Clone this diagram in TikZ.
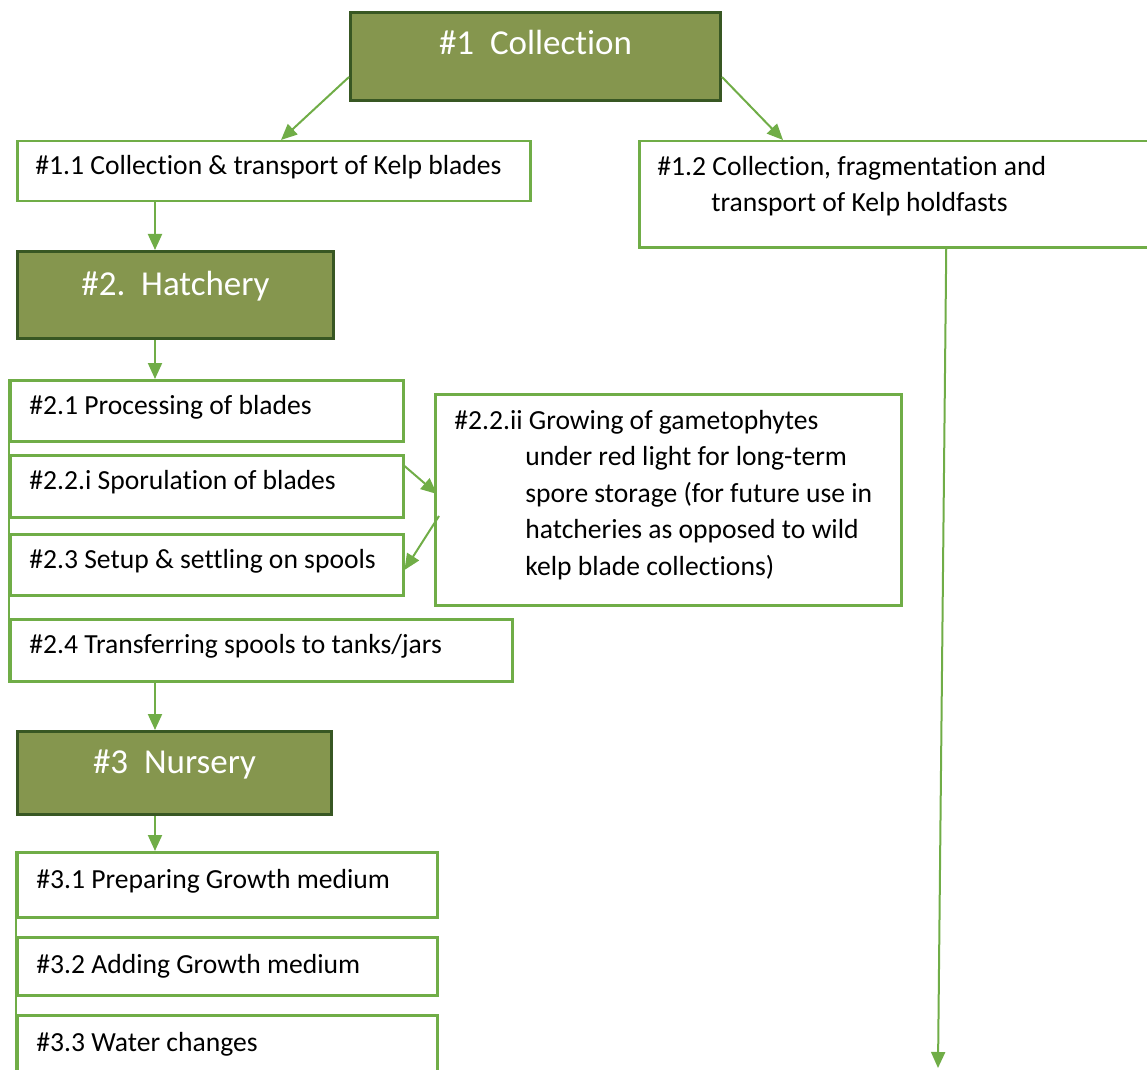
\documentclass[tikz,border=0pt]{standalone}
\usepackage{fontspec}
\setmainfont{Carlito}[Ligatures={NoCommon}]
\usetikzlibrary{calc,arrows.meta}
\definecolor{lgreen}{HTML}{70AD47}
\definecolor{olive}{RGB}{133,150,78}
\definecolor{dgreen}{HTML}{385723}
\begin{document}
\begin{tikzpicture}[x=0.5pt,y=-0.5pt,
  hdr/.style={draw=dgreen,line width=1.5pt,fill=olive,anchor=north west,inner sep=0pt},
  box/.style={draw=lgreen,line width=1.25pt,fill=white,anchor=north west,inner sep=0pt},
  htxt/.style={text=white,inner sep=0pt,anchor=base,font=\fontsize{17.5pt}{21pt}\selectfont},
  btxt/.style={inner sep=0pt,anchor=base west,align=left,font=\fontsize{13.8pt}{18.2pt}\selectfont},
  arr/.style={draw=lgreen,line width=1pt,-{Triangle[width=7pt,length=8pt]}},
  spineline/.style={draw=lgreen,line width=1.25pt}]
\useasboundingbox (0,0) rectangle (1147,1070);
% boxes
\node[hdr,minimum width=185pt,minimum height=44pt] (h1) at (349,11) {};
\node[box,minimum width=256.5pt,minimum height=30pt] (b11) at (16,140) {};
\node[box,minimum width=307pt,minimum height=53pt] (b12) at (638,140) {};
\node[hdr,minimum width=158pt,minimum height=43.5pt] (hat) at (16,250) {};
\node[box,minimum width=196.5pt,minimum height=30.5pt] (b21) at (9,379) {};
\node[box,minimum width=196.5pt,minimum height=31pt] (b22i) at (9,454) {};
\node[box,minimum width=196.5pt,minimum height=30.5pt] (b23) at (9,533) {};
\node[box,minimum width=251pt,minimum height=31pt] (b24) at (9,618) {};
\node[box,minimum width=233pt,minimum height=105.5pt] (b22ii) at (434,393) {};
\node[hdr,minimum width=157pt,minimum height=41.5pt] (nur) at (16,730) {};
\node[box,minimum width=210pt,minimum height=32.5pt] (b31) at (16,851) {};
\node[box,minimum width=210pt,minimum height=29pt] (b32) at (16,936) {};
\node[box,minimum width=210pt,minimum height=32pt] (b33) at (16,1014) {};
% texts
\node[htxt] (t1) at ($(h1.north)+(0,44)$) {\#1\ \ Collection};
\node[htxt] (t2) at ($(hat.north)+(0,45)$) {\#2.\ \ Hatchery};
\node[htxt] (t3) at ($(nur.north)+(0,43)$) {\#3\ \ Nursery};
\node[btxt] (t11) at ($(b11.north west)+(19,35)$) {\#1.1 Collection \& transport of Kelp blades};
\node[btxt] (t12) at ($(b12.north west)+(19,72)$) {\#1.2 Collection, fragmentation and\\\hspace*{27pt}transport of Kelp holdfasts};
\node[btxt] (t21) at ($(b21.north west)+(20,35)$) {\#2.1 Processing of blades};
\node[btxt] (t22i) at ($(b22i.north west)+(20,35)$) {\#2.2.i Sporulation of blades};
\node[btxt] (t23) at ($(b23.north west)+(20,35)$) {\#2.3 Setup \& settling on spools};
\node[btxt] (t24) at ($(b24.north west)+(20,35)$) {\#2.4 Transferring spools to tanks/jars};
\node[btxt] (t22ii) at ($(b22ii.north west)+(20,182)$) {\#2.2.ii Growing of gametophytes\\\hspace*{35.5pt}under red light for long-term\\\hspace*{35.5pt}spore storage (for future use in\\\hspace*{35.5pt}hatcheries as opposed to wild\\\hspace*{35.5pt}kelp blade collections)};
\node[btxt] (t31) at ($(b31.north west)+(20,37)$) {\#3.1 Preparing Growth medium};
\node[btxt] (t32) at ($(b32.north west)+(20,37)$) {\#3.2 Adding Growth medium};
\node[btxt] (t33) at ($(b33.north west)+(20,37)$) {\#3.3 Water changes};
% connectors
\coordinate (spine) at (155,0);
\coordinate (e12) at (938,1068);
\draw[arr] ($(h1.north west)+(0,66)$) -- ($(b11.north west)+(265,0)$);
\draw[arr] ($(h1.north east)+(0,66)$) -- ($(b12.north west)+(145,0)$);
\draw[arr] (b12.south) -- (e12);
\draw[arr] (spine |- b11.south) -- (spine |- hat.north);
\draw[arr] (spine |- hat.south) -- (spine |- b21.north);
\draw[arr] (spine |- b24.south) -- (spine |- nur.north);
\draw[arr] (spine |- nur.south) -- (spine |- b31.north);
\draw[spineline] (b21.north west) -- (b24.south west);
\draw[spineline] (b31.north west) -- (b33.south west);
\draw[arr] ($(b22i.north east)+(0,12)$) -- ($(b22ii.north west)+(3,101)$);
\draw[arr] ($(b22ii.north west)+(5,123)$) -- ($(b23.north east)+(0,37)$);
\end{tikzpicture}
\end{document}
